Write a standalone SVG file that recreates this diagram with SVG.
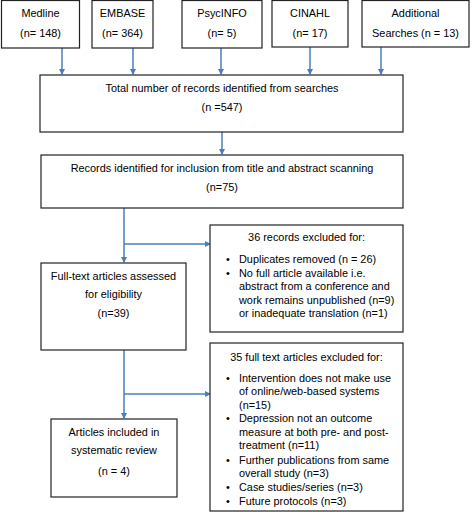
<svg xmlns="http://www.w3.org/2000/svg" width="473" height="512" viewBox="0 0 473 512">
<defs>
<marker id="ah" markerWidth="6" markerHeight="6" refX="5" refY="3" orient="auto" markerUnits="userSpaceOnUse">
<path d="M0,0 L6,3 L0,6 Z" fill="#4a7ebb"/>
</marker>
<style>
.box{fill:#fff;stroke:#222;stroke-width:1.2}
.t{font-family:"Liberation Sans",Arial,sans-serif;font-size:10.9px;fill:#000}
.c{text-anchor:middle}
.ln{stroke:#4a7ebb;stroke-width:1.5;fill:none}
.ar{marker-end:url(#ah)}
</style>
</defs>
<rect width="473" height="512" fill="#fff"/>
<g id="connectors">
<line class="ln ar" x1="62" y1="48" x2="62" y2="74"/>
<line class="ln ar" x1="133" y1="48" x2="133" y2="74"/>
<line class="ln ar" x1="221" y1="48" x2="221" y2="74"/>
<line class="ln ar" x1="310" y1="47" x2="310" y2="74"/>
<line class="ln ar" x1="381" y1="47" x2="381" y2="74"/>
<line class="ln ar" x1="222" y1="132" x2="222" y2="154"/>
<line class="ln ar" x1="124" y1="208" x2="124" y2="262"/>
<line class="ln ar" x1="124" y1="244" x2="210" y2="244"/>
<line class="ln ar" x1="124" y1="350" x2="124" y2="418"/>
<line class="ln ar" x1="124" y1="394" x2="210" y2="394"/>
</g>
<g id="medline"><rect class="box" x="1.5" y="0.5" width="78" height="47.5"/><text class="t c" x="40.5" y="17">Medline</text><text class="t c" x="40.5" y="37">(n= 148)</text></g>
<g id="embase"><rect class="box" x="92" y="0.5" width="61" height="47.5"/><text class="t c" x="122.5" y="17">EMBASE</text><text class="t c" x="122.5" y="37">(n= 364)</text></g>
<g id="psycinfo"><rect class="box" x="182" y="0.5" width="80" height="47.5"/><text class="t c" x="222" y="17">PsycINFO</text><text class="t c" x="222" y="37">(n= 5)</text></g>
<g id="cinahl"><rect class="box" x="272" y="0.5" width="76" height="46.5"/><text class="t c" x="310" y="17">CINAHL</text><text class="t c" x="310" y="37">(n= 17)</text></g>
<g id="additional"><rect class="box" x="362" y="0.5" width="107" height="46.5"/><text class="t c" x="415.5" y="17">Additional</text><text class="t c" x="415.5" y="37">Searches (n = 13)</text></g>
<g id="total"><rect class="box" x="40" y="75" width="363" height="57"/><text class="t c" x="222" y="92">Total number of records identified from searches</text><text class="t c" x="222" y="111">(n =547)</text></g>
<g id="records"><rect class="box" x="41" y="155" width="362" height="53"/><text class="t c" x="222" y="172">Records identified for inclusion from title and abstract scanning</text><text class="t c" x="222" y="191">(n=75)</text></g>
<g id="excluded36"><rect class="box" x="210" y="225" width="193" height="107"/>
<text class="t c" x="306.5" y="241">36 records excluded for:</text>
<text class="t" x="226" y="263">•</text><text class="t" x="239" y="263">Duplicates removed (n = 26)</text>
<text class="t" x="226" y="277">•</text><text class="t" x="239" y="277">No full article available i.e.</text>
<text class="t" x="239" y="290">abstract from a conference and</text>
<text class="t" x="239" y="304">work remains unpublished (n=9)</text>
<text class="t" x="239" y="317">or inadequate translation (n=1)</text>
</g>
<g id="fulltext"><rect class="box" x="41" y="263" width="145" height="87"/><text class="t c" x="113.5" y="280">Full-text articles assessed</text><text class="t c" x="113.5" y="298">for eligibility</text><text class="t c" x="113.5" y="317">(n=39)</text></g>
<g id="excluded35"><rect class="box" x="210" y="343" width="193" height="168"/>
<text class="t c" x="306.5" y="361">35 full text articles excluded for:</text>
<text class="t" x="226" y="382">•</text><text class="t" x="239" y="382">Intervention does not make use</text>
<text class="t" x="239" y="395">of online/web-based systems</text>
<text class="t" x="239" y="409">(n=15)</text>
<text class="t" x="226" y="422">•</text><text class="t" x="239" y="422">Depression not an outcome</text>
<text class="t" x="239" y="436">measure at both pre- and post-</text>
<text class="t" x="239" y="449">treatment (n=11)</text>
<text class="t" x="226" y="464">•</text><text class="t" x="239" y="464">Further publications from same</text>
<text class="t" x="239" y="477">overall study (n=3)</text>
<text class="t" x="226" y="491">•</text><text class="t" x="239" y="491">Case studies/series (n=3)</text>
<text class="t" x="226" y="505">•</text><text class="t" x="239" y="505">Future protocols (n=3)</text>
</g>
<g id="included"><rect class="box" x="51" y="419" width="126" height="78"/><text class="t c" x="114" y="436">Articles included in</text><text class="t c" x="114" y="454">systematic review</text><text class="t c" x="114" y="475">(n = 4)</text></g>
</svg>
